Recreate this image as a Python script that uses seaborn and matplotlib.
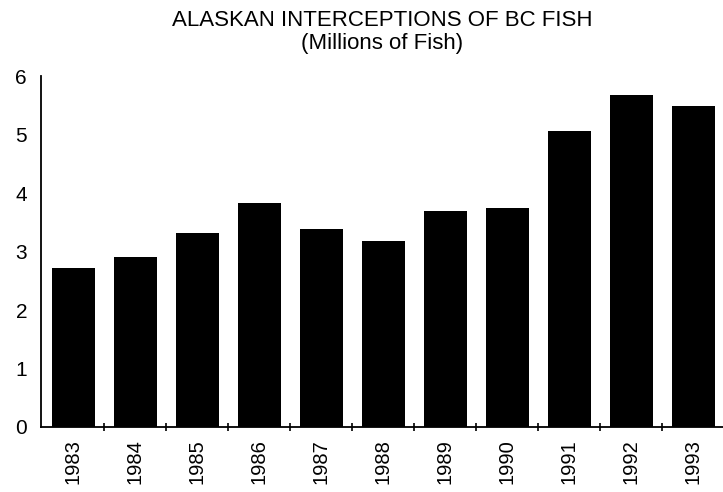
import matplotlib
matplotlib.use("Agg")
import matplotlib.pyplot as plt
import seaborn as sns
import pandas as pd
from matplotlib.ticker import FixedLocator

years = ["1983", "1984", "1985", "1986", "1987", "1988", "1989", "1990", "1991", "1992", "1993"]
values = [2.72, 2.91, 3.32, 3.83, 3.38, 3.18, 3.69, 3.74, 5.06, 5.68, 5.49]
title_lines = ["ALASKAN INTERCEPTIONS OF BC FISH", "(Millions of Fish)"]
y_ticks = [0, 1, 2, 3, 4, 5, 6]

df = pd.DataFrame({"year": years, "value": values})

sns.set_style("white")
plt.rcParams["font.family"] = ["Liberation Sans", "DejaVu Sans"]

fig = plt.figure(figsize=(7.23, 4.92), dpi=100)
ax = fig.add_axes([41 / 723, 65 / 492, (723 - 41) / 723, (427 - 76) / 492])

sns.barplot(data=df, x="year", y="value", color="black", width=0.68,
            saturation=1, ax=ax, edgecolor="black", linewidth=0)

ax.set_xlim(-0.524, 10.476)
ax.set_ylim(0, 6)
ax.set_yticks(y_ticks)
ax.set_xlabel("")
ax.set_ylabel("")

for s in ["top", "right"]:
    ax.spines[s].set_visible(False)
for s in ["left", "bottom"]:
    ax.spines[s].set_color("black")
    ax.spines[s].set_linewidth(1.3)

ax.tick_params(axis="y", length=0, pad=10, labelsize=15, labelcolor="black")
ax.tick_params(axis="x", which="major", length=0, pad=9, labelsize=14.5,
               labelcolor="black", labelrotation=90)
ax.xaxis.set_minor_locator(FixedLocator([i + 0.5 for i in range(len(years) - 1)]))
ax.tick_params(axis="x", which="minor", direction="inout", length=6, width=1.2,
               color="black", bottom=True)

fig.text(382 / 723, 1 - 20 / 492, title_lines[0], ha="center", va="center",
         fontsize=16, color="black")
fig.text(382 / 723, 1 - 43 / 492, title_lines[1], ha="center", va="center",
         fontsize=16, color="black")

fig.savefig("out.png", dpi=100, facecolor="white")
